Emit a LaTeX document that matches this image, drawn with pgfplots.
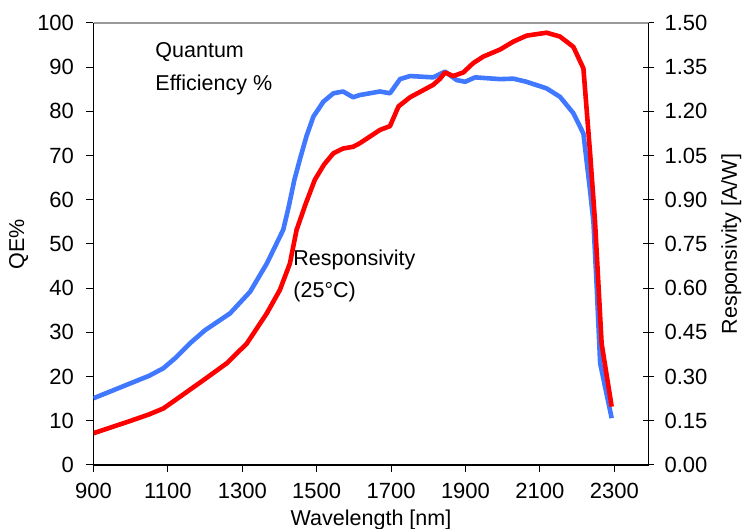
\documentclass[border=0pt]{standalone}
\usepackage{pgfplots}
\pgfplotsset{compat=1.18}
\usepackage{fontspec}
\setmainfont{Liberation Sans}

\definecolor{qeblue}{RGB}{64,120,255}
\definecolor{respred}{RGB}{255,0,0}

% quantum efficiency, %
\pgfplotstableread{
wl qe
900 15.1
950 16.8
1000 18.5
1050 20.2
1088 21.9
1120 24.2
1159 27.5
1200 30.5
1267 34.3
1321 39.2
1366 45.6
1410 53.2
1425 58.5
1440 64.5
1455 69.2
1473 74.5
1491 78.8
1518 82.2
1545 84.1
1571 84.5
1598 83.2
1616 83.7
1670 84.5
1697 84.1
1724 87.3
1751 88.0
1813 87.7
1845 89.0
1876 87.1
1899 86.7
1926 87.7
1993 87.3
2029 87.4
2064 86.7
2118 85.2
2154 83.3
2190 79.6
2217 75.0
2235 62.0
2244 55.0
2253 40.0
2262 23.0
2293 10.6
}\qedata

% responsivity, A/W
\pgfplotstableread{
wl r
900 0.108
1000 0.150
1050 0.172
1088 0.192
1133 0.232
1200 0.292
1258 0.345
1312 0.412
1366 0.515
1401 0.594
1428 0.684
1446 0.798
1470 0.885
1495 0.968
1520 1.020
1545 1.058
1571 1.074
1598 1.080
1616 1.092
1670 1.137
1697 1.150
1720 1.217
1751 1.248
1813 1.290
1831 1.310
1845 1.332
1867 1.320
1894 1.332
1921 1.364
1948 1.386
1993 1.410
2029 1.437
2064 1.457
2118 1.467
2154 1.454
2190 1.419
2217 1.346
2235 1.058
2248 0.831
2266 0.412
2293 0.198
}\respdata

\pgfplotsset{
  chartbase/.style={
    scale only axis,
    width=555pt, height=442pt,
    xmin=900, xmax=2392,
    /pgf/number format/assume math mode=true,
    tick style={black, line width=1pt},
    major tick length=7pt,
    tick label style={font=\fontsize{22}{26}\selectfont},
  },
}

\begin{document}
\begin{tikzpicture}[font=\fontsize{21.5}{26}\selectfont]
\begin{axis}[
  chartbase,
  axis x line*=bottom,
  axis y line*=left,
  axis line style={black, line width=1.5pt},
  ymin=0, ymax=100,
  ytick={0,10,...,100},
  xtick={900,1100,...,2300},
  tick align=outside,
  xticklabel style={yshift=-8pt, /pgf/number format/.cd, set thousands separator={}},
  yticklabel style={xshift=-9pt},
  xlabel={Wavelength [nm]},
  ylabel={QE\%},
  xlabel style={at={(axis description cs:0.5,-0.125)}, anchor=center},
  ylabel style={at={(axis description cs:-0.135,0.5)}, anchor=center},
]
\addplot[qeblue, line width=4.6pt, line join=round] table[x=wl, y=qe] {\qedata};
\node[anchor=base west] at (axis cs:1057,92.1) {Quantum};
\node[anchor=base west] at (axis cs:1057,84.8) {Efficiency \%};
\node[anchor=base west] at (axis cs:1428,45.2) {Responsivity};
\node[anchor=base west] at (axis cs:1428,38.0) {(25°C)};
\end{axis}
\begin{axis}[
  chartbase,
  axis x line*=top,
  axis y line*=right,
  x axis line style={gray!80, line width=2pt},
  y axis line style={black, line width=1.5pt},
  xtick=\empty,
  ymin=0, ymax=1.5,
  ytick={0,0.15,...,1.51},
  tick align=center,
  major tick length=11pt,
  yticklabel style={xshift=7pt, /pgf/number format/.cd, fixed, fixed zerofill, precision=2},
  ylabel={Responsivity [A/W]},
  ylabel style={at={(axis description cs:1.149,0.5)}, anchor=center},
]
\addplot[respred, line width=4.6pt, line join=round] table[x=wl, y=r] {\respdata};
\end{axis}
\pgfresetboundingbox
\path[use as bounding box] (-93.5pt,-64pt) rectangle (650.5pt,465pt);
\end{tikzpicture}
\end{document}
